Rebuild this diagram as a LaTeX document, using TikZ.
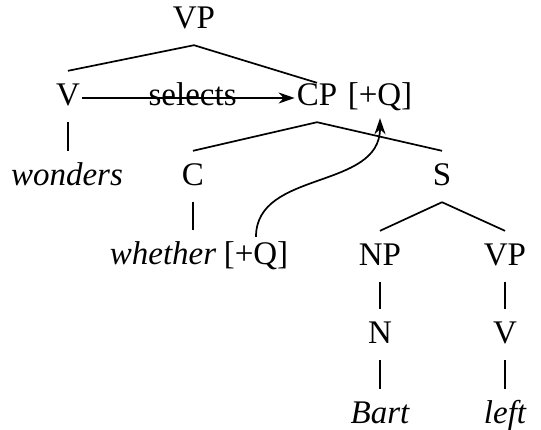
\documentclass[tikz,border=0pt]{standalone}
\usepackage{fontspec}
\setmainfont{Liberation Serif}
\usetikzlibrary{arrows.meta,calc}
\begin{document}
\begin{tikzpicture}[x=1pt,y=-1pt,
  lab/.style={font=\fontsize{33}{40}\selectfont, inner xsep=2pt, inner ysep=7pt,
              text height=27pt, text depth=10pt, anchor=base},
  edge/.style={line width=1.7pt},
  arr/.style={line width=1.7pt, -{Stealth[length=16pt,width=11pt,inset=5pt]}}]
\useasboundingbox (0,0) rectangle (541,429);
\node[lab] (vp) at (194,28) {VP};
\node[lab] (v) at (68,105) {V};
\node[lab] (cp) at (317,105) {CP};
\node[lab] (cpq) at (380,105) {[+Q]};
\node[lab] (wonders) at (67,185) {\itshape wonders};
\node[lab] (c) at (193,185) {C};
\node[lab] (s) at (442,185) {S};
\node[lab] (whether) at (163,264) {\itshape whether};
\node[lab] (wq) at (256,264) {[+Q]};
\node[lab] (np) at (380,265) {NP};
\node[lab] (vp2) at (505,265) {VP};
\node[lab] (n) at (380,343) {N};
\node[lab] (v2) at (505,343) {V};
\node[lab] (bart) at (380,423) {\itshape Bart};
\node[lab] (left) at (505,423) {\itshape left};
\draw[edge] (vp.south) -- (v.north);
\draw[edge] (vp.south) -- ([yshift=-12pt]cp.north);
\draw[edge] (v.south) -- (v.south |- wonders.north);
\draw[edge] (cp.south) -- (c.north);
\draw[edge] (cp.south) -- (s.north);
\draw[edge] (c.south) -- (c.south |- whether.north);
\draw[edge] (s.south) -- (np.north);
\draw[edge] (s.south) -- (vp2.north);
\draw[edge] (np.south) -- (n.north);
\draw[edge] (vp2.south) -- (v2.north);
\draw[edge] (n.south) -- (bart.north);
\draw[edge] (v2.south) -- (left.north);
\draw[arr] ([yshift=7pt]v.base east) -- node[lab, pos=0.52, yshift=-7pt] (sel) {selects} ([yshift=7pt]cp.base west);
\draw[arr] ([yshift=-7pt]wq.north) .. controls +(0,-67) and +(0,72) .. ([yshift=4pt]cpq.south);
\end{tikzpicture}
\end{document}
